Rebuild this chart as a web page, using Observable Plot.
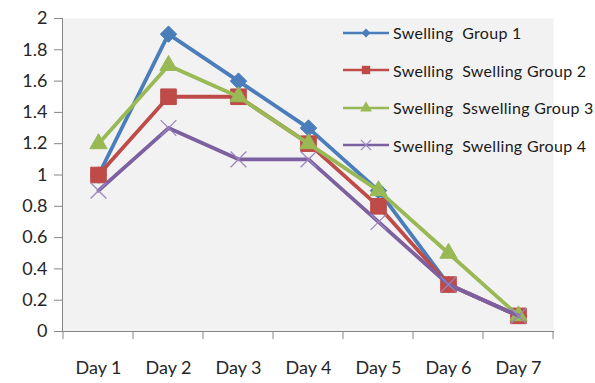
<!DOCTYPE html>
<html>
<head>
<meta charset="utf-8">
<script src="https://cdn.jsdelivr.net/npm/d3@7"></script>
<script src="https://cdn.jsdelivr.net/npm/@observablehq/plot@0.6"></script>
<style>
  html, body { margin: 0; padding: 0; background: #fff; }
  #wrap { position: relative; width: 595px; height: 383px; font-family: Lato, "Open Sans", sans-serif; }
  #legend { position: absolute; left: 343px; top: 14px; }
  .row { display: flex; align-items: center; height: 37.5px; white-space: pre; font-size: 16px; letter-spacing: 0.3px; color: #1a1a1a; }
  .row svg { margin-right: 4px; }
</style>
</head>
<body>
<div id="wrap"><div id="legend"></div></div>
<script>
const days = ["Day 1", "Day 2", "Day 3", "Day 4", "Day 5", "Day 6", "Day 7"];
const group1 = [1.0, 1.9, 1.6, 1.3, 0.9, 0.3, 0.1];
const group2 = [1.0, 1.5, 1.5, 1.2, 0.8, 0.3, 0.1];
const group3 = [1.2, 1.7, 1.5, 1.2, 0.9, 0.5, 0.1];
const group4 = [0.9, 1.3, 1.1, 1.1, 0.7, 0.3, 0.1];
const groupNames = ["Swelling  Group 1", "Swelling  Swelling Group 2", "Swelling  Sswelling Group 3", "Swelling  Swelling Group 4"];
const yTicks = [0, 0.2, 0.4, 0.6, 0.8, 1, 1.2, 1.4, 1.6, 1.8, 2];

const groups = [group1, group2, group3, group4];
const colors = ["#4a7ebb", "#be4b48", "#98b954", "#7d60a0"];
const symbols = ["diamond2", "square", "triangle", "times"];
const radii = [7.4, 8.8, 6.4, 7.2];

const seriesMarks = [];
groups.forEach((vals, i) => {
  const data = days.map((d, j) => ({day: d, value: vals[j]}));
  seriesMarks.push(Plot.lineY(data, {x: "day", y: "value", stroke: colors[i], strokeWidth: 3.8}));
  if (symbols[i] === "times") {
    seriesMarks.push(Plot.dot(data, {x: "day", y: "value", symbol: "times", r: radii[i], stroke: "#9b86c0", strokeWidth: 1.2, fill: "none"}));
  } else {
    seriesMarks.push(Plot.dot(data, {x: "day", y: "value", symbol: symbols[i], r: radii[i], fill: colors[i], stroke: colors[i], strokeWidth: 1}));
  }
});

const bandTicks = (index, scales, values, dimensions) => {
  const x = scales.x;
  const bw = x.bandwidth ? x.bandwidth() : 0;
  const y0 = dimensions.height - dimensions.marginBottom;
  const g = d3.create("svg:g").attr("stroke", "#868686").attr("stroke-width", 1);
  const edges = days.map(d => x(d)).concat([x(days[days.length - 1]) + bw]);
  edges.forEach(px => g.append("line").attr("x1", px).attr("x2", px).attr("y1", y0).attr("y2", y0 + 8));
  return g.node();
};

const chart = Plot.plot({
  width: 595,
  height: 383,
  marginLeft: 62,
  marginRight: 42,
  marginTop: 18,
  marginBottom: 52,
  x: {type: "band", domain: days, padding: 0, label: null},
  y: {domain: [0, 2], label: null},
  style: {fontFamily: "Lato, 'Open Sans', sans-serif", fontSize: "18px", color: "#262626", background: "transparent"},
  marks: [
    Plot.frame({fill: "#f2f2f2", stroke: null}),
    Plot.axisY({ticks: yTicks, tickSize: 8, tickPadding: 7, stroke: "#868686", tickFormat: d => String(Math.round(d * 10) / 10), fontSize: 18}),
    Plot.axisX({tickSize: 0, tickPadding: 30, fontSize: 18}),
    Plot.frame({anchor: "left", stroke: "#868686"}),
    Plot.frame({anchor: "bottom", stroke: "#868686"}),
    bandTicks,
    ...seriesMarks
  ]
});
document.getElementById("wrap").prepend(chart);
chart.style.position = "absolute";
chart.style.left = "0";
chart.style.top = "0";

const legend = document.getElementById("legend");
const symGen = {diamond2: d3.symbolDiamond2, square: d3.symbolSquare, triangle: d3.symbolTriangle, times: d3.symbolTimes};
const legendSizes = [50, 70, 60, 70];
groupNames.forEach((name, i) => {
  const row = document.createElement("div");
  row.className = "row";
  const s = d3.create("svg").attr("width", 46).attr("height", 14);
  s.append("line").attr("x1", 0).attr("x2", 46).attr("y1", 7).attr("y2", 7).attr("stroke", colors[i]).attr("stroke-width", 2.5);
  const p = s.append("path").attr("transform", "translate(23,7)").attr("d", d3.symbol(symGen[symbols[i]], legendSizes[i])());
  if (symbols[i] === "times") p.attr("fill", "none").attr("stroke", "#9b86c0").attr("stroke-width", 1.2);
  else p.attr("fill", colors[i]);
  row.appendChild(s.node());
  const t = document.createElement("span");
  t.textContent = name;
  row.appendChild(t);
  legend.appendChild(row);
});
</script>
</body>
</html>
